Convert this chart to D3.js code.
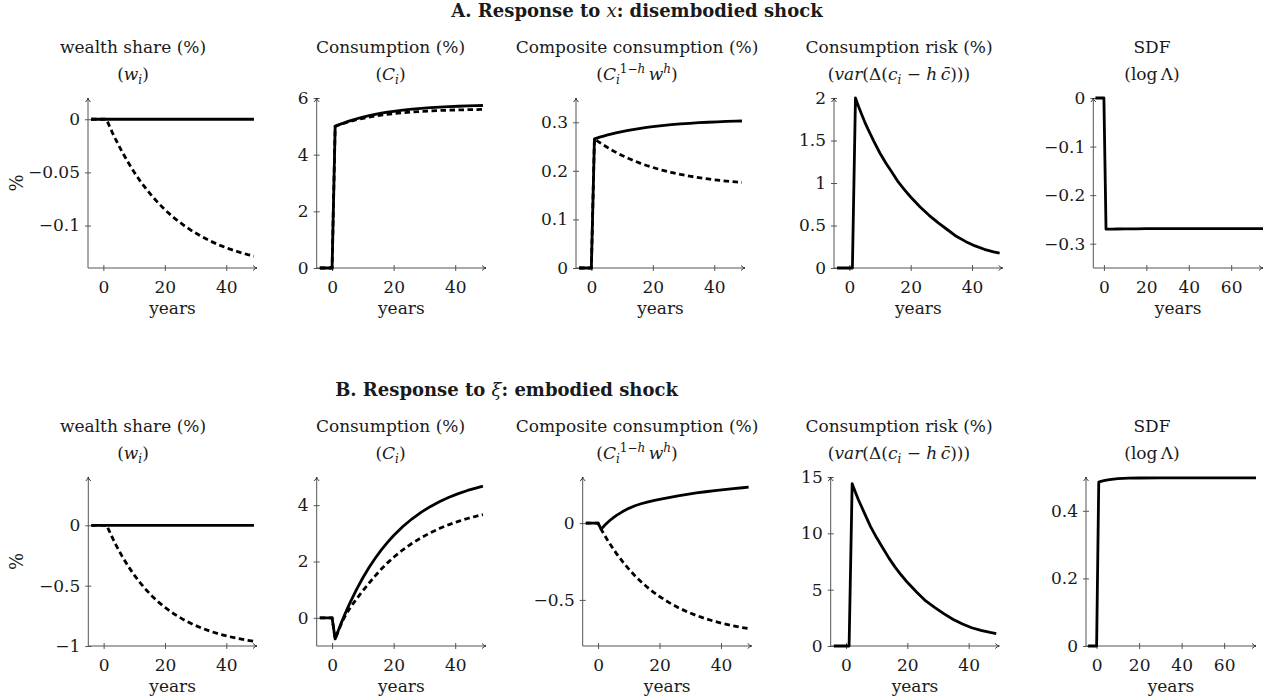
<!DOCTYPE html>
<html>
<head>
<meta charset="utf-8">
<script src="https://cdn.jsdelivr.net/npm/d3@7"></script>
<style>
  body { margin: 0; background: #fff; }
  svg text { font-family: "DejaVu Serif", serif; font-size: 17px; fill: #1a1a1a; }
  .axis line, .axis path { stroke: #555; }
  .tick text { font-size: 17px; }
</style>
</head>
<body>
<div id="chart"></div>
<script>
document.addEventListener("DOMContentLoaded", function(event) {

// years after the shock (horizon panels 1-4) and for the SDF panel
var years    = [-4, 0, 1, 2, 3, 4, 5, 6, 8, 10, 12, 14, 16, 18, 20, 23, 26, 29, 32, 35, 38, 41, 44, 47, 49];
var sdfYears = [-4, 0, 1, 2, 4, 6, 10, 15, 20, 30, 45, 60, 75];

// A. disembodied shock
var aWealthSolid  = [0, 0, 0, 0, 0, 0, 0, 0, 0, 0, 0, 0, 0, 0, 0, 0, 0, 0, 0, 0, 0, 0, 0, 0, 0];
var aWealthDashed = [0, 0, 0, -0.0066, -0.013, -0.019, -0.0246, -0.0301, -0.0403, -0.0497, -0.0582, -0.0658, -0.0729, -0.0792, -0.0851, -0.0928, -0.0995, -0.1054, -0.1104, -0.1149, -0.1187, -0.122, -0.1249, -0.1274, -0.1289];
var aConsSolid    = [0, 0, 5.0, 5.045, 5.088, 5.128, 5.166, 5.202, 5.268, 5.326, 5.377, 5.422, 5.463, 5.499, 5.531, 5.572, 5.606, 5.635, 5.659, 5.679, 5.695, 5.709, 5.721, 5.731, 5.736];
var aConsDashed   = [0, 0, 5.0, 5.041, 5.079, 5.114, 5.148, 5.179, 5.235, 5.284, 5.327, 5.364, 5.396, 5.425, 5.45, 5.481, 5.507, 5.528, 5.545, 5.559, 5.57, 5.579, 5.587, 5.593, 5.596];
var aCompSolid    = [0, 0, 0.266, 0.268, 0.2699, 0.2717, 0.2735, 0.2751, 0.2781, 0.2809, 0.2833, 0.2855, 0.2876, 0.2894, 0.291, 0.2931, 0.295, 0.2966, 0.2979, 0.2991, 0.3001, 0.3009, 0.3017, 0.3023, 0.3026];
var aCompDashed   = [0, 0, 0.266, 0.2614, 0.2571, 0.2529, 0.249, 0.2452, 0.2381, 0.2316, 0.2258, 0.2204, 0.2155, 0.211, 0.207, 0.2016, 0.1968, 0.1927, 0.1891, 0.186, 0.1833, 0.1809, 0.1789, 0.1771, 0.176];
var aRisk         = [0, 0, 0, 2.0, 1.9, 1.81, 1.72, 1.64, 1.49, 1.35, 1.23, 1.12, 1.01, 0.92, 0.835, 0.72, 0.62, 0.53, 0.45, 0.37, 0.31, 0.26, 0.22, 0.19, 0.175];
var aSdf          = [0, 0, -0.27, -0.27, -0.2698, -0.2697, -0.2695, -0.2693, -0.2691, -0.269, -0.2689, -0.2688, -0.2688];

// B. embodied shock
var bWealthSolid  = [0, 0, 0, 0, 0, 0, 0, 0, 0, 0, 0, 0, 0, 0, 0, 0, 0, 0, 0, 0, 0, 0, 0, 0, 0];
var bWealthDashed = [0, 0, 0, -0.0571, -0.1111, -0.1621, -0.2101, -0.2556, -0.339, -0.4134, -0.4796, -0.5389, -0.5916, -0.6386, -0.6806, -0.7351, -0.7811, -0.8198, -0.8523, -0.8798, -0.9029, -0.9223, -0.9387, -0.9524, -0.9604];
var bConsSolid    = [0, 0, -0.75, -0.457, -0.179, 0.087, 0.338, 0.577, 1.022, 1.423, 1.786, 2.114, 2.411, 2.678, 2.921, 3.241, 3.516, 3.753, 3.956, 4.131, 4.281, 4.41, 4.522, 4.617, 4.673];
var bConsDashed   = [0, 0, -0.75, -0.47, -0.21, 0.02, 0.21, 0.38, 0.68, 0.96, 1.229, 1.492, 1.732, 1.951, 2.15, 2.417, 2.648, 2.85, 3.025, 3.178, 3.311, 3.426, 3.527, 3.614, 3.666];
var bCompSolid    = [0, 0, -0.04, -0.018, 0.002, 0.02, 0.036, 0.05, 0.075, 0.096, 0.113, 0.126, 0.137, 0.146, 0.154, 0.166, 0.177, 0.187, 0.196, 0.204, 0.211, 0.218, 0.224, 0.23, 0.234];
var bCompDashed   = [0, 0, -0.04, -0.0749, -0.1082, -0.1398, -0.1699, -0.1984, -0.2514, -0.2993, -0.3426, -0.3817, -0.4172, -0.4491, -0.478, -0.5163, -0.5491, -0.5773, -0.6016, -0.6225, -0.6404, -0.6558, -0.6691, -0.6804, -0.6871];
var bRisk         = [0, 0, 0, 14.4, 13.7, 13.0, 12.4, 11.8, 10.6, 9.6, 8.7, 7.8, 7.0, 6.3, 5.65, 4.8, 4.0, 3.4, 2.85, 2.35, 1.95, 1.62, 1.38, 1.2, 1.1];
var bSdf          = [0, 0, 0.485, 0.487, 0.49, 0.492, 0.495, 0.4965, 0.497, 0.4975, 0.4976, 0.4976, 0.4976];

// tick values
var xTicks      = [0, 20, 40];
var xTicksSdf   = [0, 20, 40, 60];
var aWealthTicks = [0, -0.05, -0.1];
var aConsTicks   = [0, 2, 4, 6];
var aCompTicks   = [0, 0.1, 0.2, 0.3];
var aRiskTicks   = [0, 0.5, 1, 1.5, 2];
var aSdfTicks    = [0, -0.1, -0.2, -0.3];
var bWealthTicks = [0, -0.5, -1];
var bConsTicks   = [0, 2, 4];
var bCompTicks   = [0, -0.5];
var bRiskTicks   = [0, 5, 10, 15];
var bSdfTicks    = [0, 0.2, 0.4];

var titleTop = ["wealth share (%)", "Consumption (%)", "Composite consumption (%)", "Consumption risk (%)", "SDF"];

var rows = [
  {top: 98, bottom: 268, header: 17},
  {top: 477, bottom: 646, header: 396}
];
var titleX = [133, 390.5, 637, 899, 1152];

var panels = [
  {row: 0, col: 0, left: 88,    right: 257,   xDom: [-5, 50], yDom: [-0.14, 0.02], xs: years, xt: xTicks, yt: aWealthTicks, solid: aWealthSolid, dashed: aWealthDashed},
  {row: 0, col: 1, left: 316.7, right: 486,   xDom: [-5, 50], yDom: [0, 6],        xs: years, xt: xTicks, yt: aConsTicks,   solid: aConsSolid,   dashed: aConsDashed},
  {row: 0, col: 2, left: 576,   right: 745,   xDom: [-5, 50], yDom: [0, 0.35],     xs: years, xt: xTicks, yt: aCompTicks,   solid: aCompSolid,   dashed: aCompDashed},
  {row: 0, col: 3, left: 834,   right: 1002.7,xDom: [-5, 50], yDom: [0, 2],        xs: years, xt: xTicks, yt: aRiskTicks,   solid: aRisk},
  {row: 0, col: 4, left: 1093.3,right: 1263,  xDom: [-5, 75], yDom: [-0.35, 0],    xs: sdfYears, xt: xTicksSdf, yt: aSdfTicks, solid: aSdf},
  {row: 1, col: 0, left: 88.3,  right: 257,   xDom: [-5, 50], yDom: [-1, 0.4],     xs: years, xt: xTicks, yt: bWealthTicks, solid: bWealthSolid, dashed: bWealthDashed},
  {row: 1, col: 1, left: 316.7, right: 486,   xDom: [-5, 50], yDom: [-1, 5],       xs: years, xt: xTicks, yt: bConsTicks,   solid: bConsSolid,   dashed: bConsDashed},
  {row: 1, col: 2, left: 582.7, right: 751.7, xDom: [-5, 50], yDom: [-0.8, 0.3],   xs: years, xt: xTicks, yt: bCompTicks,   solid: bCompSolid,   dashed: bCompDashed},
  {row: 1, col: 3, left: 830.7, right: 999.3, xDom: [-5, 50], yDom: [0, 15],       xs: years, xt: xTicks, yt: bRiskTicks,   solid: bRisk},
  {row: 1, col: 4, left: 1086,  right: 1256,  xDom: [-5, 75], yDom: [0, 0.5],      xs: sdfYears, xt: xTicksSdf, yt: bSdfTicks, solid: bSdf}
];

// second title lines (math), as tspan pieces
var titleMath = [
  [{t: "("}, {t: "w", i: 1}, {t: "i", i: 1, fs: 12, dy: 4}, {t: ")", dy: -4}],
  [{t: "("}, {t: "C", i: 1}, {t: "i", i: 1, fs: 12, dy: 4}, {t: ")", dy: -4}],
  [{t: "("}, {t: "C", i: 1}, {t: "i", i: 1, fs: 12, dy: 4}, {t: "1\u2212", fs: 12, dy: -11}, {t: "h", i: 1, fs: 12},
   {t: "\u2009w", i: 1, dy: 7}, {t: "h", i: 1, fs: 12, dy: -7}, {t: ")", dy: 7}],
  [{t: "("}, {t: "var", i: 1}, {t: "(\u0394("}, {t: "c", i: 1}, {t: "i", i: 1, fs: 12, dy: 4}, {t: " \u2212 ", dy: -4},
   {t: "h", i: 1}, {t: "\u2009"}, {t: "c\u0304", i: 1}, {t: ")))"}],
  [{t: "(log\u2009\u039B)"}]
];

var headers = [
  [{t: "A. Response to "}, {t: "x", i: 1, n: 1}, {t: ": disembodied shock"}],
  [{t: "B. Response to "}, {t: "\u03BE", i: 1, n: 1}, {t: ": embodied shock"}]
];
var headerX = [637, 506.5];

function fmtTick(v) {
  return (v < 0 ? "\u2212" : "") + Math.abs(v);
}

function addPieces(textSel, pieces) {
  pieces.forEach(function (p) {
    var ts = textSel.append("tspan").text(p.t);
    if (p.i) ts.style("font-style", "italic");
    if (p.n) ts.style("font-weight", "normal");
    if (p.fs) ts.style("font-size", p.fs + "px");
    if (p.dy) ts.attr("dy", p.dy);
    if (p.dx) ts.attr("dx", p.dx);
  });
}

var svg = d3.select("#chart")
  .append("svg")
  .attr("width", 1269)
  .attr("height", 700);

// panel headers
headers.forEach(function (h, r) {
  var t = svg.append("text")
    .attr("x", headerX[r])
    .attr("y", rows[r].header)
    .style("text-anchor", "middle")
    .style("font-weight", "bold")
    .style("font-size", "18px");
  addPieces(t, h);
});

panels.forEach(function (p) {
  var row = rows[p.row];

  var xScale = d3.scaleLinear().domain(p.xDom).range([p.left, p.right]);
  var yScale = d3.scaleLinear().domain(p.yDom).range([row.bottom, row.top]);

  var g = svg.append("g");

  // titles
  g.append("text")
    .attr("x", titleX[p.col])
    .attr("y", row.top - 45)
    .style("text-anchor", "middle")
    .text(titleTop[p.col]);

  var t2 = g.append("text")
    .attr("x", titleX[p.col])
    .attr("y", row.top - 18)
    .style("text-anchor", "middle");
  addPieces(t2, titleMath[p.col]);

  //Add the X Axis
  var xAxis = d3.axisBottom(xScale)
    .tickValues(p.xt)
    .tickFormat(fmtTick)
    .tickSize(3)
    .tickSizeOuter(0)
    .tickPadding(10);

  var gx = g.append("g")
    .attr("class", "axis")
    .attr("transform", "translate(0," + row.bottom + ")")
    .call(xAxis);
  gx.select(".domain").remove();
  gx.selectAll(".tick line").attr("y1", -3).attr("stroke", "#555");
  gx.attr("font-size", null).attr("font-family", null);

  //Add the Y Axis
  var yAxis = d3.axisLeft(yScale)
    .tickValues(p.yt)
    .tickFormat(fmtTick)
    .tickSize(3)
    .tickSizeOuter(0)
    .tickPadding(5);

  var gy = g.append("g")
    .attr("class", "axis")
    .attr("transform", "translate(" + p.left + ",0)")
    .call(yAxis);
  gy.select(".domain").remove();
  gy.selectAll(".tick line").attr("x1", 3).attr("stroke", "#555");
  gy.attr("font-size", null).attr("font-family", null);

  // axis lines with arrow tips
  g.append("line")
    .attr("x1", p.left).attr("x2", p.right)
    .attr("y1", row.bottom).attr("y2", row.bottom)
    .attr("stroke", "#555").attr("stroke-width", 1);
  g.append("line")
    .attr("x1", p.left).attr("x2", p.left)
    .attr("y1", row.bottom).attr("y2", row.top)
    .attr("stroke", "#555").attr("stroke-width", 1);
  g.append("path")
    .attr("d", "M" + (p.right - 4) + "," + (row.bottom - 2.5) + " Q" + (p.right - 1.5) + "," + row.bottom + " " + p.right + "," + row.bottom +
               " Q" + (p.right - 1.5) + "," + row.bottom + " " + (p.right - 4) + "," + (row.bottom + 2.5))
    .attr("fill", "none").attr("stroke", "#222").attr("stroke-width", 0.9);
  g.append("path")
    .attr("d", "M" + (p.left - 2.5) + "," + (row.top + 4) + " Q" + p.left + "," + (row.top + 1.5) + " " + p.left + "," + row.top +
               " Q" + p.left + "," + (row.top + 1.5) + " " + (p.left + 2.5) + "," + (row.top + 4))
    .attr("fill", "none").attr("stroke", "#222").attr("stroke-width", 0.9);

  // x label
  g.append("text")
    .attr("x", (p.left + p.right) / 2)
    .attr("y", row.bottom + 46)
    .style("text-anchor", "middle")
    .text("years");

  // y label on the first column
  if (p.col === 0) {
    g.append("text")
      .attr("transform", "translate(17," + ((row.top + row.bottom) / 2) + ") rotate(-90)")
      .attr("dy", "0.35em")
      .style("text-anchor", "middle")
      .style("font-size", "18px")
      .text("%");
  }

  //Initiate the line function
  var lineFunction = d3.line()
    .x(function (d, i) { return xScale(p.xs[i]); })
    .y(function (d) { return yScale(d); });

  g.append("path")
    .attr("d", lineFunction(p.solid))
    .attr("fill", "none")
    .attr("stroke", "#000")
    .attr("stroke-width", 2.8)
    .attr("stroke-linejoin", "round");

  if (p.dashed) {
    g.append("path")
      .attr("d", lineFunction(p.dashed))
      .attr("fill", "none")
      .attr("stroke", "#000")
      .attr("stroke-width", 2.8)
      .attr("stroke-dasharray", "5.5,3.5");
  }
});

});
</script>
</body>
</html>
